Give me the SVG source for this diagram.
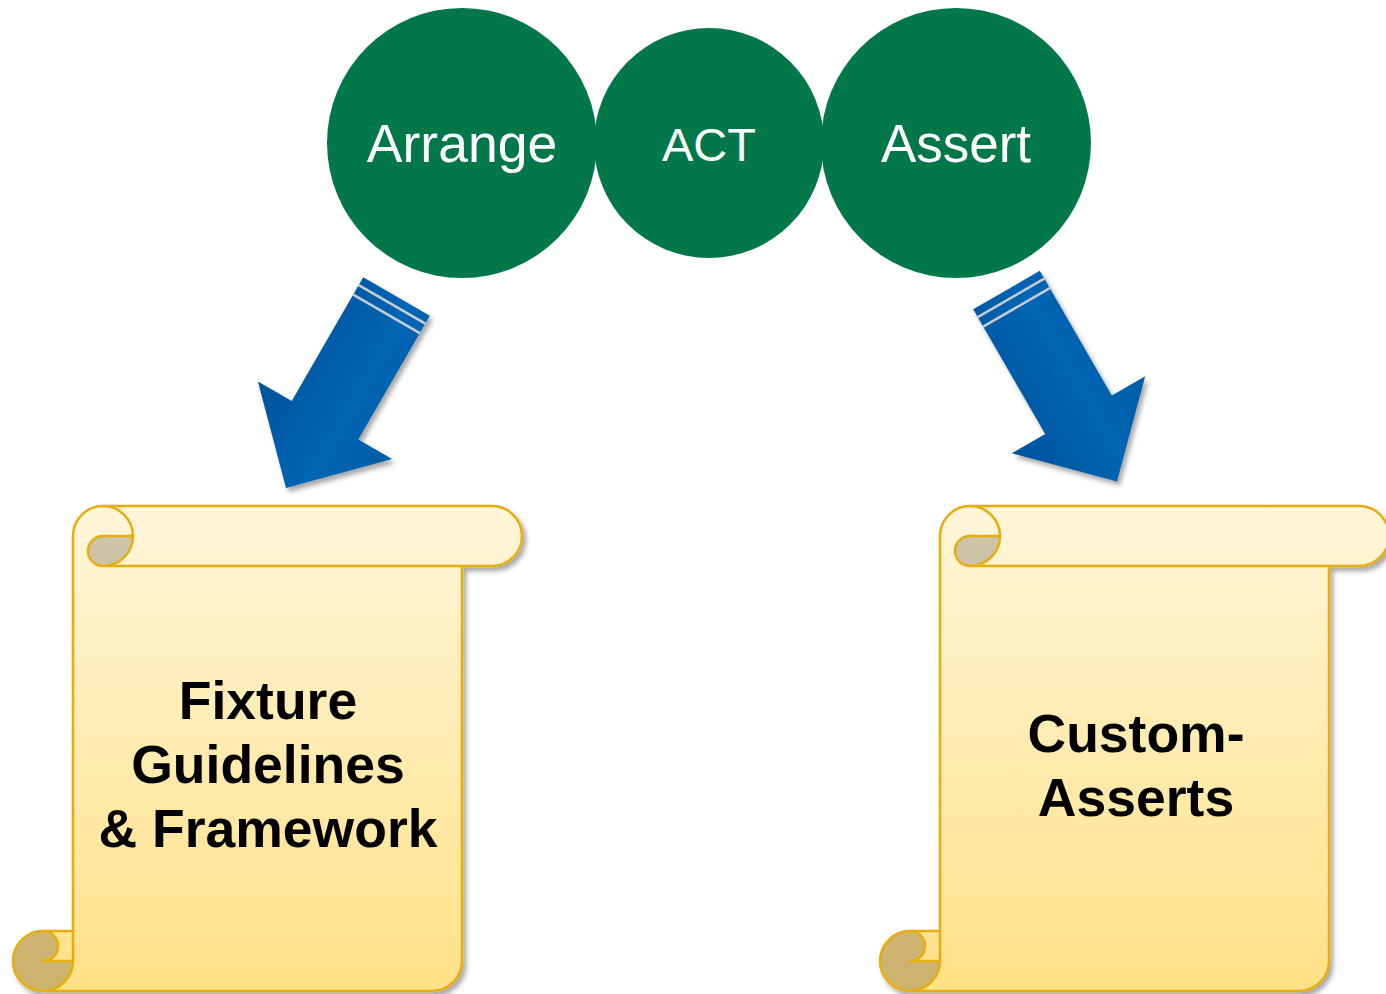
<svg xmlns="http://www.w3.org/2000/svg" width="1386" height="994" viewBox="0 0 1386 994">
<style>
.circ{fill:#02774A}
.ctext{font-family:"Liberation Sans",Arial,sans-serif;fill:#fff;text-anchor:middle}
.stext{font-family:"Liberation Sans",Arial,sans-serif;font-weight:bold;font-size:53.5px;fill:#000;text-anchor:middle}
.sfill{fill:url(#scrollGrad)}
.sdark{fill:#000;fill-opacity:0.2}
.sline{fill:none;stroke:#E9AC0A;stroke-width:2.5;stroke-linejoin:round}
.stripe{stroke:#C8CDD4;stroke-width:2.5}
</style>
<defs>
<linearGradient id="scrollGrad" gradientUnits="userSpaceOnUse" x1="0" y1="506" x2="0" y2="991">
<stop offset="0" stop-color="#FFF6DA"/>
<stop offset="1" stop-color="#FFE187"/>
</linearGradient>
<linearGradient id="arrowL" gradientUnits="userSpaceOnUse" x1="258" y1="382" x2="392" y2="459">
<stop offset="0" stop-color="#00529C"/>
<stop offset="0.6" stop-color="#0066B4"/>
<stop offset="1" stop-color="#005CA8"/>
</linearGradient>
<linearGradient id="arrowR" gradientUnits="userSpaceOnUse" x1="1012" y1="453" x2="1145" y2="376">
<stop offset="0" stop-color="#00529C"/>
<stop offset="0.6" stop-color="#0066B4"/>
<stop offset="1" stop-color="#005CA8"/>
</linearGradient>
<filter id="shadow" x="-10%" y="-10%" width="120%" height="120%">
<feDropShadow dx="3" dy="4" stdDeviation="2.5" flood-color="#000" flood-opacity="0.35"/>
</filter>
<g id="scrollShape">
<path class="sfill" d="M73,931 L73,536 A30,30 0 0 1 103,506 L492,506 A30,30 0 0 1 492,566 L462,566 L462,961 A30,30 0 0 1 432,991 L43,991 A30,30 0 0 1 43,931 Z"/>
<path class="sdark" d="M133,536 A30,30 0 0 1 103,566 A15,15 0 0 1 103,536 Z"/>
<path class="sdark" d="M73,961 A30,30 0 1 1 43,931 A15,15 0 0 1 43,961 Z"/>
<path class="sline" d="M73,931 L73,536 A30,30 0 0 1 103,506 L492,506 A30,30 0 0 1 492,566 L462,566 L462,961 A30,30 0 0 1 432,991 L43,991 A30,30 0 0 1 43,931 Z"/>
<path class="sline" d="M103,506 A30,30 0 0 1 103,566 A15,15 0 0 1 103,536 L133,536 M462,566 L103,566 M43,931 A15,15 0 0 1 43,961 L73,961 M43,991 A30,30 0 0 0 73,961 L73,931"/>
</g>
</defs>

<g id="arrange">
<circle class="circ" cx="462" cy="143" r="135"/>
<text class="ctext" x="462" y="162" font-size="53.5">Arrange</text>
</g>
<g id="act">
<circle class="circ" cx="709" cy="143" r="115"/>
<text class="ctext" x="709" y="161" font-size="47">ACT</text>
</g>
<g id="assert">
<circle class="circ" cx="956" cy="143" r="135"/>
<text class="ctext" x="956" y="162" font-size="53">Assert</text>
</g>

<g id="connectors">
<g id="arrow-left" filter="url(#shadow)">
<polygon fill="url(#arrowL)" points="363.2,277.3 429.8,315.8 358.3,439.6 392.1,459.1 286,487.9 257.9,381.6 291.7,401.1"/>
<line class="stripe" x1="358.7" y1="285.1" x2="425.3" y2="323.6"/>
<line class="stripe" x1="353.2" y1="294.6" x2="419.8" y2="333.1"/>
</g>
<g id="arrow-right" filter="url(#shadow)">
<polygon fill="url(#arrowR)" points="1039.8,270.8 1111.8,395.5 1145.2,376.2 1117,481.4 1011.8,453.2 1045.2,434 973.2,309.3"/>
<line class="stripe" x1="977.7" y1="317.1" x2="1044.3" y2="278.6"/>
<line class="stripe" x1="983.2" y1="326.6" x2="1049.8" y2="288.1"/>
</g>
</g>

<g id="scroll-fixture">
<use href="#scrollShape" filter="url(#shadow)"/>
<text class="stext" x="268" y="719">Fixture</text>
<text class="stext" x="268" y="783">Guidelines</text>
<text class="stext" x="268" y="847">&amp; Framework</text>
</g>
<g id="scroll-asserts">
<use href="#scrollShape" transform="translate(867,0)" filter="url(#shadow)"/>
<text class="stext" x="1136" y="752">Custom-</text>
<text class="stext" x="1136" y="816">Asserts</text>
</g>
</svg>
